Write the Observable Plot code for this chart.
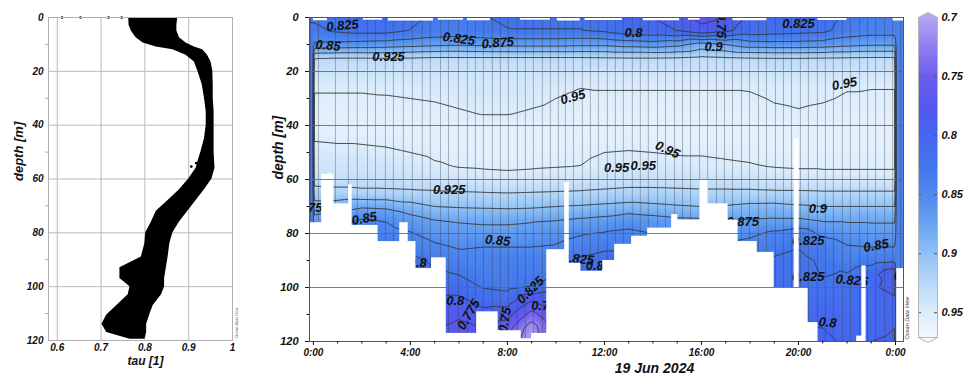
<!DOCTYPE html>
<html><head><meta charset="utf-8">
<script src="https://cdn.jsdelivr.net/npm/d3@7"></script>
<script src="https://cdn.jsdelivr.net/npm/@observablehq/plot@0.6"></script>
<style>
body{margin:0;background:#fff;}
#fig{position:relative;width:966px;height:381px;overflow:hidden;background:#fff;}
#fig svg{position:absolute;top:0;}
</style></head><body><div id="fig"></div>
<script>
// ---------- Left panel: tau profile (band of the scatter cloud) ----------
const bandDepth = [0,3,5,7.5,9.5,11,12,14,16.5,20,25,30,35,40,45,50,53,56,60,64,68,72,76,80,84,89,93,97,100,103,107,110.5,114,117,119.5];
const bandLo    = [0.763,0.764,0.769,0.78,0.796,0.826,0.864,0.894,0.913,0.921,0.931,0.936,0.94,0.94,0.936,0.928,0.922,0.917,0.9,0.879,0.853,0.826,0.815,0.802,0.8,0.792,0.743,0.743,0.766,0.762,0.736,0.713,0.702,0.713,0.766];
const bandHi    = [0.875,0.873,0.873,0.879,0.894,0.913,0.932,0.943,0.951,0.955,0.956,0.956,0.958,0.958,0.958,0.958,0.959,0.96,0.953,0.936,0.917,0.898,0.879,0.864,0.857,0.853,0.849,0.845,0.845,0.838,0.819,0.811,0.804,0.804,0.8];
const strayTau   = [0.611,0.653,0.717,0.747,0.906,0.917];
const strayDepth = [0,0,0,0,55.4,54.1];
const tauTicks = [0.6,0.7,0.8,0.9,1.0];
const tauTickLabels = ["0.6","0.7","0.8","0.9","1"];
const tauGrid = [0.6,0.7,0.8,0.9];
const depthTicks = [0,20,40,60,80,100,120];
const depthGrid = [20,40,60,80,100];
const depthMinor = [10,30,50,70,90,110];

// ---------- Right panel: tau section, hours x depth ----------
const hours  = [0,1,2,3,4,5,6,7,8,9,10,11,12,13,14,15,16,17,18,19,20,21,22,23,24];
const depths = [0,5,10,15,20,25,30,35,40,45,50,55,60,65,70,75,80,85,90,95,100,105,110,115,120];
const tau_0m   = [0.822,0.815,0.812,0.812,0.82,0.828,0.83,0.826,0.822,0.82,0.82,0.82,0.815,0.805,0.8,0.79,0.765,0.775,0.805,0.808,0.81,0.815,0.83,0.835,0.835];
const tau_5m   = [0.83,0.822,0.818,0.818,0.826,0.833,0.835,0.83,0.826,0.826,0.826,0.826,0.822,0.812,0.808,0.8,0.785,0.795,0.812,0.815,0.818,0.82,0.835,0.84,0.84];
const tau_10m  = [0.855,0.858,0.86,0.862,0.866,0.87,0.872,0.87,0.868,0.868,0.868,0.87,0.87,0.865,0.862,0.868,0.885,0.875,0.862,0.86,0.86,0.862,0.868,0.872,0.872];
const tau_15m  = [0.924,0.926,0.926,0.925,0.926,0.928,0.928,0.928,0.928,0.928,0.928,0.928,0.927,0.926,0.926,0.927,0.93,0.928,0.926,0.925,0.925,0.926,0.927,0.928,0.928];
const tau_20m  = [0.938,0.938,0.938,0.938,0.938,0.939,0.939,0.938,0.938,0.938,0.939,0.94,0.94,0.94,0.94,0.94,0.94,0.94,0.939,0.938,0.938,0.939,0.94,0.94,0.94];
const tau_25m  = [0.947,0.947,0.947,0.947,0.946,0.945,0.944,0.943,0.943,0.944,0.946,0.949,0.948,0.948,0.948,0.948,0.948,0.948,0.948,0.947,0.947,0.948,0.949,0.949,0.949];
const tau_30m  = [0.952,0.952,0.952,0.951,0.95,0.949,0.947,0.946,0.946,0.947,0.95,0.953,0.953,0.953,0.953,0.953,0.953,0.953,0.952,0.949,0.947,0.949,0.951,0.952,0.952];
const tau_35m  = [0.955,0.955,0.955,0.955,0.954,0.953,0.951,0.949,0.949,0.951,0.953,0.955,0.955,0.955,0.955,0.955,0.955,0.955,0.954,0.952,0.951,0.952,0.954,0.955,0.955];
const tau_40m  = [0.957,0.957,0.957,0.957,0.957,0.956,0.955,0.954,0.954,0.955,0.956,0.957,0.957,0.957,0.957,0.957,0.957,0.957,0.957,0.956,0.956,0.956,0.957,0.957,0.957];
const tau_45m  = [0.951,0.952,0.952,0.953,0.955,0.957,0.958,0.958,0.958,0.958,0.957,0.957,0.956,0.956,0.956,0.956,0.956,0.957,0.957,0.957,0.957,0.957,0.957,0.957,0.957];
const tau_50m  = [0.945,0.946,0.947,0.948,0.95,0.953,0.955,0.956,0.956,0.956,0.955,0.953,0.95,0.949,0.95,0.951,0.951,0.952,0.953,0.954,0.954,0.954,0.954,0.954,0.954];
const tau_55m  = [0.94,0.94,0.94,0.941,0.943,0.948,0.951,0.952,0.953,0.952,0.951,0.95,0.946,0.944,0.945,0.946,0.947,0.948,0.949,0.951,0.952,0.952,0.952,0.952,0.952];
const tau_60m  = [0.934,0.934,0.934,0.935,0.936,0.938,0.941,0.943,0.944,0.943,0.941,0.94,0.937,0.935,0.935,0.936,0.937,0.937,0.938,0.94,0.942,0.944,0.944,0.944,0.944];
const tau_65m  = [0.915,0.918,0.92,0.92,0.921,0.922,0.923,0.924,0.925,0.924,0.923,0.922,0.92,0.918,0.918,0.919,0.92,0.92,0.92,0.921,0.921,0.922,0.922,0.922,0.922];
const tau_70m  = [0.888,0.885,0.878,0.88,0.89,0.9,0.902,0.903,0.904,0.903,0.9,0.898,0.895,0.892,0.895,0.898,0.9,0.898,0.894,0.893,0.897,0.9,0.9,0.9,0.9];
const tau_75m  = [0.868,0.86,0.848,0.852,0.865,0.875,0.878,0.88,0.88,0.878,0.876,0.872,0.868,0.86,0.865,0.87,0.872,0.874,0.874,0.872,0.872,0.878,0.878,0.878,0.878];
const tau_80m  = [0.85,0.845,0.838,0.84,0.848,0.86,0.864,0.866,0.866,0.862,0.858,0.852,0.848,0.845,0.85,0.855,0.86,0.86,0.855,0.845,0.835,0.855,0.862,0.865,0.865];
const tau_85m  = [0.84,0.835,0.83,0.83,0.835,0.845,0.852,0.85,0.85,0.85,0.848,0.84,0.832,0.83,0.835,0.84,0.845,0.845,0.84,0.832,0.826,0.835,0.848,0.85,0.85];
const tau_90m  = [0.83,0.826,0.822,0.82,0.815,0.832,0.84,0.84,0.838,0.838,0.836,0.82,0.81,0.815,0.82,0.825,0.83,0.83,0.828,0.822,0.82,0.828,0.838,0.835,0.83];
const tau_95m  = [0.82,0.818,0.815,0.812,0.81,0.82,0.826,0.834,0.834,0.832,0.826,0.815,0.805,0.81,0.815,0.82,0.82,0.82,0.82,0.818,0.823,0.826,0.824,0.808,0.78];
const tau_100m = [0.81,0.81,0.808,0.806,0.805,0.81,0.812,0.826,0.83,0.824,0.81,0.805,0.8,0.805,0.81,0.81,0.81,0.81,0.81,0.812,0.82,0.822,0.82,0.805,0.79];
const tau_105m = [0.8,0.8,0.8,0.8,0.8,0.797,0.792,0.81,0.812,0.775,0.8,0.8,0.8,0.8,0.8,0.8,0.8,0.8,0.8,0.805,0.812,0.812,0.812,0.808,0.805];
const tau_110m = [0.79,0.79,0.79,0.79,0.79,0.785,0.778,0.79,0.785,0.74,0.78,0.79,0.79,0.79,0.79,0.79,0.79,0.79,0.79,0.8,0.805,0.805,0.808,0.806,0.805];
const tau_115m = [0.78,0.78,0.78,0.78,0.78,0.775,0.77,0.775,0.76,0.71,0.77,0.78,0.78,0.78,0.78,0.78,0.78,0.78,0.78,0.795,0.798,0.8,0.805,0.803,0.8];
const tau_120m = [0.775,0.775,0.775,0.775,0.775,0.77,0.765,0.77,0.75,0.7,0.765,0.775,0.775,0.775,0.775,0.775,0.775,0.775,0.775,0.79,0.795,0.797,0.802,0.8,0.798];
const tauRows = [tau_0m,tau_5m,tau_10m,tau_15m,tau_20m,tau_25m,tau_30m,tau_35m,tau_40m,tau_45m,tau_50m,tau_55m,tau_60m,tau_65m,tau_70m,tau_75m,tau_80m,tau_85m,tau_90m,tau_95m,tau_100m,tau_105m,tau_110m,tau_115m,tau_120m];

// cast (profile) times in hours
const castHours = [-0.12,0.21,0.91,1.44,1.81,2.23,2.56,2.97,3.30,3.71,4.08,4.49,4.82,5.24,5.57,5.98,6.35,6.68,7.01,7.38,7.71,8.04,8.41,8.74,9.07,9.44,9.77,10.10,10.39,10.72,11.09,11.42,11.75,12.12,12.45,12.78,13.15,13.48,13.81,14.19,14.52,14.89,15.22,15.55,15.92,16.25,16.62,16.95,17.28,17.65,17.98,18.35,18.68,19.05,19.38,19.71,20.08,20.41,20.78,21.11,21.44,21.81,22.14,22.52,22.85,23.18,23.55,23.88,24.21];
// deepest data depth per time segment (white below)
const segEdges  = [-0.2,0.37,0.82,1.48,1.57,2.64,3.59,3.88,4.2,4.9,5.45,6.76,7.59,8.54,9.03,9.65,10.39,10.52,11.0,11.96,12.45,13.15,13.81,14.8,15.0,15.96,16.25,17.07,17.48,18.27,18.97,19.85,20.0,20.37,20.78,22.43,22.64,22.76,24.08,24.4];
const segBottom = [76,58,69,62,77,83,76,83,93,89,117,109,116,119,117,86,61,91,94,90,84,81,78,73,75,60,69,75,83,87,100,45,100,113,120,118,92,120,93];
// shallowest data depth gaps at the surface
const topGapStart = [0.0,2.06,3.09,5.15,6.35,8.54,10.06,11.2,13.6,15.46,17.3,20.8,23.9];
const topGapEnd   = [0.58,2.85,4.95,6.19,7.3,9.77,11.0,12.74,15.1,15.95,18.7,22.0,24.4];
const topGapDepth = [1.2,1.0,1.3,1.0,1.2,1.0,1.3,1.1,1.2,1.0,1.2,1.1,1.3];

const contourLevels = [0.7,0.725,0.75,0.775,0.8,0.825,0.85,0.875,0.9,0.925,0.95];
const hourTicks  = [0,4,8,12,16,20,24];
const hourLabels = ["0:00","4:00","8:00","12:00","16:00","20:00","0:00"];
const hourMinor  = [1,2,3,5,6,7,9,10,11,13,14,15,17,18,19,21,22,23];

// contour labels
const lblHour  = [1.2,0.6,3.1,6.0,7.6,10.7,5.6,12.5,13.6,14.6,13.2,16.8,16.5,20.0,21.9,-0.3,2.1,7.6,4.3,10.9,11.6,5.85,6.4,8.95,7.9,9.35,20.8,17.7,20.4,23.2,20.4,22.2,24.3,21.2];
const lblDepth = [3,10.4,14.7,7.9,9.4,29.5,64,55.5,55,49,5.5,3,11,2.3,24.6,70.5,74.5,82.6,90.7,89.5,92,105,110,101,112,106.7,71,75.5,82.6,84.5,96,97.4,95.5,113];
const lblText  = ["0.825","0.85","0.925","0.825","0.875","0.95","0.925","0.95","0.95","0.95","0.8","0.75","0.9","0.825","0.95","0.875","0.85","0.85","0.8","0.825","0.8","0.8","0.775","0.825","0.75","0.7","0.9","0.875","0.825","0.85","0.825","0.825","0.8","0.8"];
const lblAngle = [-5,5,0,8,-5,-15,0,0,0,25,0,90,0,0,-10,0,-10,5,0,5,0,0,-60,-45,-80,0,0,0,0,-10,0,5,0,5];

// colour bar
const cStops  = [0.70,0.725,0.75,0.775,0.80,0.825,0.85,0.875,0.90,0.925,0.95,0.975];
const cColors = ["#b3a6f4","#8f7ff1","#6c5cee","#5358ee","#4565ee","#4276ec","#4e8aef","#69a4f2","#8fc2f6","#b9d9f9","#ddedfc","#f8fbff"];
const cbTicks = [0.7,0.75,0.8,0.85,0.9,0.95];
const cbLabels = ["0.7","0.75","0.8","0.85","0.9","0.95"];
const cbMin = 0.7, cbMax = 0.971;

// ---------- build tables ----------
const band = bandDepth.map((d,i) => ({d, lo: bandLo[i], hi: bandHi[i]}));
const stray = strayTau.map((t,i) => ({t, d: strayDepth[i]}));
const grid = [];
depths.forEach((d,j) => hours.forEach((h,i) => grid.push({t: h, d, v: tauRows[j][i]})));
const segs = segBottom.map((b,i) => ({a: segEdges[i], b: segEdges[i+1], bottom: b}));
const topGaps = topGapStart.map((a,i) => ({a, b: topGapEnd[i], d: topGapDepth[i]}));
const labels = lblText.map((s,i) => ({h: lblHour[i], d: lblDepth[i], s, a: lblAngle[i]}));
const colorScale = {type: "linear", domain: cStops, range: cColors, interpolate: "rgb", clamp: true};
const font = {fontFamily: "'Liberation Sans', Arial, sans-serif", fontWeight: "bold", fontStyle: "italic", fontSize: "10px", color: "#111", background: "transparent"};

// flat arrow caps for the colour bar
const capUp   = {draw(c) { c.moveTo(-9.5, 0); c.lineTo(0, -5); c.lineTo(9.5, 0); c.closePath(); }};
const capDown = {draw(c) { c.moveTo(-9.5, 0); c.lineTo(0, 5); c.lineTo(9.5, 0); c.closePath(); }};

const fig = document.getElementById("fig");

// Left panel
const leftSvg = Plot.plot({
  width: 240, height: 381, marginLeft: 48, marginRight: 8, marginTop: 17, marginBottom: 41,
  style: font,
  x: {domain: [0.58, 1.0], label: null, axis: null},
  y: {domain: [0, 120], reverse: true, label: null, axis: null},
  marks: [
    Plot.gridX(tauGrid, {stroke: "#b8b8b8", strokeOpacity: 1}),
    Plot.gridY(depthGrid, {stroke: "#b8b8b8", strokeOpacity: 1}),
    Plot.areaX(band, {y: "d", x1: "lo", x2: "hi", fill: "#000"}),
    Plot.dot(stray, {x: "t", y: "d", r: 1.3, fill: "#000"}),
    Plot.frame({stroke: "#b0b0b0"}),
    Plot.axisX(tauTicks, {tickSize: 0, tickPadding: 3, label: null, fontSize: 10, tickFormat: t => tauTickLabels[tauTicks.indexOf(t)]}),
    Plot.axisY(depthTicks, {tickSize: 0, tickPadding: 5, label: null, fontSize: 10}),
    Plot.axisY(depthMinor, {tickSize: 3, label: null, tickFormat: () => "", stroke: "#aaa"}),
    Plot.text(["tau [1]"], {text: d => d, frameAnchor: "bottom", dx: 5, dy: 24, fontSize: 12}),
    Plot.text(["depth [m]"], {text: d => d, frameAnchor: "left", dx: -30, dy: 2, rotate: -90, fontSize: 13}),
    Plot.text(["Ocean Data View"], {text: d => d, frameAnchor: "bottom-right", dx: 5, dy: -2, rotate: -90, textAnchor: "start", fontSize: 4, fontWeight: "normal", fill: "#444"})
  ]
});
leftSvg.style.left = "0px";
fig.appendChild(leftSvg);

// Right panel
const rightSvg = Plot.plot({
  width: 665, height: 381, marginLeft: 59, marginRight: 12, marginTop: 17, marginBottom: 40,
  style: font,
  x: {domain: [-0.16, 24.33], label: null, axis: null},
  y: {domain: [0, 120], reverse: true, label: null, axis: null},
  color: colorScale,
  marks: [
    Plot.raster(grid, {x: "t", y: "d", fill: "v", interpolate: "barycentric", clip: true}),
    Plot.ruleX(castHours, {y1: 0, y2: 120, stroke: "#3c3c3c", strokeOpacity: 0.4, strokeWidth: 0.9, clip: true}),
    Plot.contour(grid, {x: "t", y: "d", value: "v", interpolate: "barycentric", thresholds: contourLevels, stroke: "#3a3a3a", strokeWidth: 1, fill: "none", clip: true}),
    Plot.text(labels, {x: "h", y: "d", text: "s", rotate: "a", fontSize: 13, fill: "#111", clip: true}),
    Plot.rect(segs, {x1: "a", x2: "b", y1: "bottom", y2: 120, fill: "#fff", insetLeft: -0.7, insetRight: -0.7, clip: true}),
    Plot.rect(topGaps, {x1: "a", x2: "b", y1: 0, y2: "d", fill: "#fff", clip: true}),
    Plot.ruleY(depthGrid, {stroke: "#666", strokeOpacity: 0.85}),
    Plot.frame({stroke: "#555"}),
    Plot.axisY(depthTicks, {tickSize: 4, tickPadding: 7, label: null, fontSize: 11}),
    Plot.axisY(depthMinor, {tickSize: 2.5, label: null, tickFormat: () => ""}),
    Plot.axisX(hourTicks, {tickSize: 4, tickPadding: 3, label: null, fontSize: 10, tickFormat: h => hourLabels[hourTicks.indexOf(h)]}),
    Plot.axisX(hourMinor, {tickSize: 2.5, label: null, tickFormat: () => ""}),
    Plot.text(["19 Jun 2024"], {text: d => d, frameAnchor: "bottom", dx: 48, dy: 31, fontSize: 14}),
    Plot.text(["depth [m]"], {text: d => d, frameAnchor: "left", dx: -31, dy: 0, rotate: -90, fontSize: 14}),
    Plot.text(["Ocean Data View"], {text: d => d, frameAnchor: "bottom-right", dx: 5, dy: -2, rotate: -90, textAnchor: "start", fontSize: 5.5, fontWeight: "normal", fill: "#333"})
  ]
});
rightSvg.style.left = "250px";
fig.appendChild(rightSvg);

// Colour bar
const cbSvg = Plot.plot({
  width: 61, height: 381, marginLeft: 13, marginRight: 29, marginTop: 17, marginBottom: 44,
  style: font,
  x: {domain: [0, 1], axis: null},
  y: {domain: [cbMin, cbMax], reverse: true, label: null, axis: null},
  color: colorScale,
  marks: [
    Plot.raster({fill: (x, y) => y, x1: 0, x2: 1, y1: cbMin, y2: cbMax}),
    Plot.ruleY(cbTicks.slice(1), {x1: 0, x2: 0.16, stroke: "#555"}),
    Plot.ruleY(cbTicks.slice(1), {x1: 0.84, x2: 1, stroke: "#555"}),
    Plot.frame({stroke: "#b5b5b5"}),
    Plot.dot([cbMin], {x: 0.5, y: d => d, fill: d => d, symbol: capUp, stroke: "#b5b5b5", strokeWidth: 1}),
    Plot.dot([cbMax], {x: 0.5, y: d => d, fill: "#fbfdff", symbol: capDown, stroke: "#b5b5b5", strokeWidth: 1}),
    Plot.axisY(cbTicks, {anchor: "right", tickSize: 0, tickPadding: 4, label: null, fontSize: 11, tickFormat: t => cbLabels[cbTicks.indexOf(t)]})
  ]
});
cbSvg.style.left = "905px";
fig.appendChild(cbSvg);
</script></body></html>
